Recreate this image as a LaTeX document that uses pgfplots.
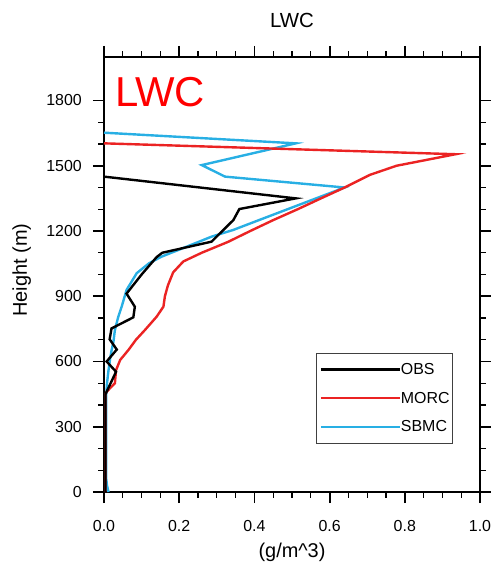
\documentclass[border=0pt]{standalone}
\usepackage{fontspec}
\setmainfont{Liberation Sans}
\usepackage{pgfplots}
\pgfplotsset{compat=1.18}
\definecolor{morc}{RGB}{235,35,35}
\definecolor{sbmc}{RGB}{40,175,228}
\begin{document}
\begin{tikzpicture}
\begin{axis}[
  scale only axis,
  width=376bp, height=435bp,
  xmin=0, xmax=1, ymin=0, ymax=2000,
  xtick={0,0.2,...,1.0}, minor x tick num=3,
  ytick={0,300,...,1800}, minor y tick num=2,
  tick pos=both, tick align=outside,
  major tick length=11bp, minor tick length=5.5bp,
  every major tick/.style={line width=1.8bp, black},
  every minor tick/.style={line width=1.2bp, black},
  axis line style={line width=2bp},
  /pgf/number format/assume math mode=true,
  scaled ticks=false,
  xticklabel={\pgfmathprintnumber[fixed,fixed zerofill,precision=1]{\tick}},
  yticklabel={\pgfmathprintnumber[fixed,precision=0,1000 sep={}]{\tick}},
  tick label style={font=\fontsize{16}{16}\selectfont},
  xticklabel style={anchor=base, inner sep=0pt, yshift=-28.2bp},
  yticklabel style={anchor=east, inner sep=0pt, xshift=-11bp},
  xlabel={(g/m\textasciicircum 3)},
  ylabel={Height (m)},
  title={LWC},
  every axis x label/.style={at={(axis description cs:0.5,-0.1517)}, anchor=base, font=\fontsize{20}{20}\selectfont},
  every axis y label/.style={at={(axis description cs:-0.2048,0.5103)}, rotate=90, anchor=base, font=\fontsize{20}{20}\selectfont},
  title style={at={(axis description cs:0.5,1)}, anchor=base, yshift=23.5bp, font=\fontsize{20.5}{20.5}\selectfont},
  reverse legend,
  legend cell align=left,
  legend style={at={(axis description cs:0.564,0.32)}, anchor=north west,
    draw=black!75, line width=1bp, font=\fontsize{16}{16}\selectfont,
    inner xsep=3bp, inner ysep=7bp, row sep=10bp,
    nodes={inner xsep=0bp, inner ysep=3bp}},
  legend image code/.code={\draw[#1, line width=2.4bp] (0bp,0bp) -- (79bp,0bp);},
  clip=false,
]
\addplot[sbmc, line width=2.4bp] coordinates {
(0.012,0) (0.008,30) (0.006,60) (0.006,450) (0.008,500) (0.012,560) (0.016,610)
(0.020,650) (0.025,690) (0.029,745) (0.038,806) (0.047,852) (0.060,929)
(0.087,1006) (0.120,1052) (0.153,1082) (0.220,1128) (0.286,1174) (0.344,1205)
(0.412,1250) (0.488,1300) (0.564,1350) (0.640,1400) (0.322,1450) (0.260,1503)
(0.510,1603) (0,1652)};
\addlegendentry{SBMC}
\addplot[morc, line width=2.4bp] coordinates {
(0.004,0) (0.004,450) (0.007,461) (0.029,500) (0.032,560) (0.043,607) (0.065,653)
(0.085,700) (0.109,745) (0.140,806) (0.158,852) (0.162,900) (0.170,950)
(0.184,1010) (0.211,1060) (0.260,1100) (0.330,1150) (0.389,1200) (0.450,1250)
(0.515,1300) (0.577,1350) (0.640,1400) (0.707,1458) (0.778,1500) (0.935,1553)
(0,1603)};
\addlegendentry{MORC}
\addplot[black, line width=2.4bp] coordinates {
(0.004,0) (0.004,450) (0.032,553) (0.007,600) (0.034,655) (0.015,702) (0.020,752)
(0.078,803) (0.082,852) (0.060,912) (0.100,1000) (0.140,1080) (0.155,1100)
(0.286,1151) (0.344,1250) (0.360,1301) (0.510,1350) (0,1450)};
\addlegendentry{OBS}
\node[anchor=base west, inner sep=0pt, text=red, font=\fontsize{42}{42}\selectfont] at (axis description cs:0.029,0.887) {LWC};
\end{axis}
\pgfresetboundingbox
\path (-104bp,-80bp) rectangle (387bp,492bp);
\end{tikzpicture}
\end{document}
